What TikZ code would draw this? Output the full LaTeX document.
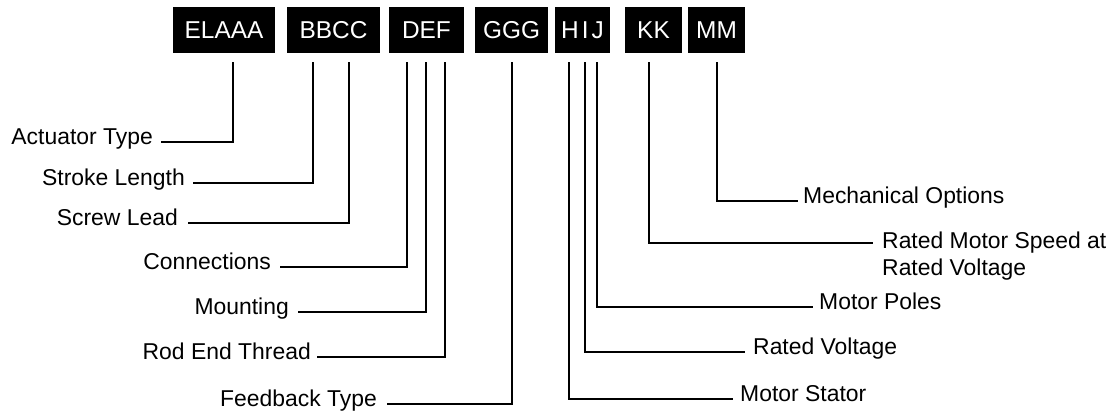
\documentclass[tikz,border=0pt]{standalone}
\usepackage{fontspec}
\setmainfont{Liberation Sans}
\begin{document}
\begin{tikzpicture}[x=1bp,y=-1bp,
  box/.style={fill=black,text=white,inner sep=0pt,minimum height=46bp,font=\fontsize{24.5}{28}\selectfont},
  lab/.style={inner sep=0pt,font=\fontsize{23}{27}\selectfont},
  lline/.style={line width=1.4bp},
  rline/.style={line width=1.8bp}]
\useasboundingbox (0,0) rectangle (1119,416);
% code boxes
\node[box,minimum width=102bp] (b1) at (224,30) {ELAAA};
\node[box,minimum width=93bp] (b2) at (333.5,30) {BBCC};
\node[box,minimum width=75bp] (b3) at (426.5,30) {DEF};
\node[box,minimum width=73bp] (b4) at (511.5,30) {GGG};
\node[box,minimum width=55bp] (b5) at (582.5,30) {H\kern3bp I\kern3bp J};
\node[box,minimum width=57bp] (b6) at (653.5,30) {KK};
\node[box,minimum width=57bp] (b7) at (716.5,30) {MM};
% tops of the leader lines
\coordinate (t1) at (233,62);
\coordinate (t2) at (313,62);
\coordinate (t3) at (349,62);
\coordinate (t4) at (407,62);
\coordinate (t5) at (426,62);
\coordinate (t6) at (445,62);
\coordinate (t7) at (512,62);
\coordinate (h1) at (569,62);
\coordinate (h2) at (585,62);
\coordinate (h3) at (597,62);
\coordinate (k1) at (649,62);
\coordinate (m1) at (717,62);
% left labels
\node[lab,anchor=mid east] (l1) at (153,142) {Actuator Type};
\node[lab,anchor=mid east] (l2) at (185,183) {Stroke Length};
\node[lab,anchor=mid east] (l3) at (178,223) {Screw Lead};
\node[lab,anchor=mid east] (l4) at (271,267) {Connections};
\node[lab,anchor=mid east] (l5) at (289,312) {Mounting};
\node[lab,anchor=mid east] (l6) at (311,357) {Rod End Thread};
\node[lab,anchor=mid east] (l7) at (377,404) {Feedback Type};
\draw[lline] ([xshift=8bp]l1.mid east) -| (t1);
\draw[lline] ([xshift=8bp]l2.mid east) -| (t2);
\draw[lline] ([xshift=10bp]l3.mid east) -| (t3);
\draw[lline] ([xshift=9bp]l4.mid east) -| (t4);
\draw[lline] ([xshift=9bp]l5.mid east) -| (t5);
\draw[lline] ([xshift=6bp]l6.mid east) -| (t6);
\draw[lline] ([xshift=10bp]l7.mid east) -| (t7);
% right labels
\node[lab,anchor=mid west] (r1) at (803,201) {Mechanical Options};
\node[lab,anchor=north west,align=left] (r2) at (882,232) {Rated Motor Speed at\\Rated Voltage};
\node[lab,anchor=mid west] (r3) at (819,307) {Motor Poles};
\node[lab,anchor=mid west] (r4) at (753,352) {Rated Voltage};
\node[lab,anchor=mid west] (r5) at (740,399) {Motor Stator};
\draw[rline] (m1) |- ([xshift=-5bp]r1.mid west);
\draw[rline] (k1) |- ([xshift=-9bp,yshift=-11bp]r2.north west);
\draw[rline] (h3) |- ([xshift=-6bp]r3.mid west);
\draw[rline] (h2) |- ([xshift=-8bp]r4.mid west);
\draw[rline] (h1) |- ([xshift=-7bp]r5.mid west);
\end{tikzpicture}
\end{document}
